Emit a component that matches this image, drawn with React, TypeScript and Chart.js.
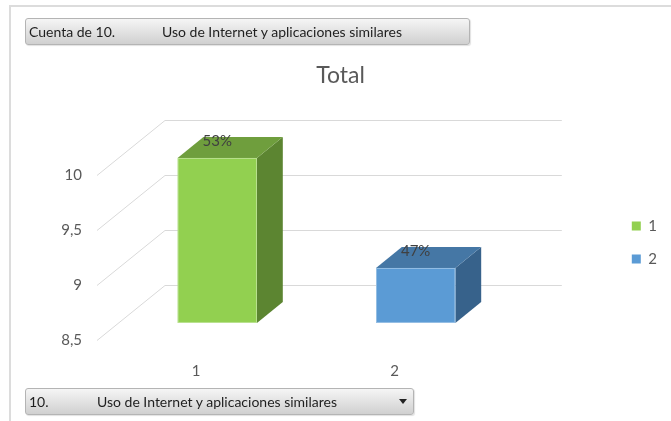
import React, { useEffect, useRef } from 'react';
import { Chart, registerables } from 'chart.js';

Chart.register(...registerables);

// ---- data ----
const categories = ['1', '2'];
const counts = [10, 9];
const yTickValues = [8.5, 9, 9.5, 10];
const chartTitle = 'Total';
const topButtonTexts = ['Cuenta de 10.', 'Uso de Internet y aplicaciones similares'];
const bottomButtonTexts = ['10.', 'Uso de Internet y aplicaciones similares'];

// ---- styles ----
const frontColors = ['#92D050', '#5B9BD5'];
const topColors = ['#6F9E3D', '#4577A5'];
const sideColors = ['#5C8531', '#37628B'];
const FONT = 'Lato, "Open Sans", sans-serif';
const TEXT_GRAY = '#595959';
const DEPTH_X = 68;
const DEPTH_Y = -55;
const BAR_FRONT = 0.31;
const BAR_BACK = 0.69;

const fmt = (v: number) => String(v).replace('.', ',');

const box3d = {
  id: 'box3d',
  beforeDatasetsDraw(chart: any) {
    const { ctx, chartArea: a } = chart;
    const y = chart.scales.y;
    ctx.save();
    // perspective grid (side wall diagonals + back wall lines)
    ctx.strokeStyle = '#d9d9d9';
    ctx.lineWidth = 1;
    y.ticks.forEach((t: any) => {
      const py = Math.round(y.getPixelForValue(t.value)) + 0.5;
      ctx.beginPath();
      ctx.moveTo(a.left, py);
      ctx.lineTo(a.left + DEPTH_X, py + DEPTH_Y);
      ctx.lineTo(a.right + DEPTH_X, py + DEPTH_Y);
      ctx.stroke();
    });
    // bars
    const meta = chart.getDatasetMeta(0);
    const values = chart.data.datasets[0].data as number[];
    const total = values.reduce((s, v) => s + v, 0);
    const fx = DEPTH_X * BAR_FRONT;
    const fy = DEPTH_Y * BAR_FRONT;
    const dx = DEPTH_X * (BAR_BACK - BAR_FRONT);
    const dy = DEPTH_Y * (BAR_BACK - BAR_FRONT);
    const basePix = y.getBasePixel();
    meta.data.forEach((bar: any, i: number) => {
      const p = bar.getProps(['x', 'y', 'base', 'width'], true);
      const x0 = p.x - p.width / 2 + fx;
      const x1 = p.x + p.width / 2 + fx;
      const y0 = p.y + fy;
      const y1 = Math.min(p.base, basePix) + fy;
      // side
      ctx.fillStyle = sideColors[i];
      ctx.beginPath();
      ctx.moveTo(x1, y0);
      ctx.lineTo(x1 + dx, y0 + dy);
      ctx.lineTo(x1 + dx, y1 + dy);
      ctx.lineTo(x1, y1);
      ctx.closePath();
      ctx.fill();
      // top
      ctx.fillStyle = topColors[i];
      ctx.beginPath();
      ctx.moveTo(x0, y0);
      ctx.lineTo(x1, y0);
      ctx.lineTo(x1 + dx, y0 + dy);
      ctx.lineTo(x0 + dx, y0 + dy);
      ctx.closePath();
      ctx.fill();
      // front
      ctx.fillStyle = frontColors[i];
      ctx.fillRect(x0, y0, x1 - x0, y1 - y0);
      ctx.strokeStyle = 'rgba(255,255,255,0.35)';
      ctx.strokeRect(x0 + 0.5, y0 + 0.5, x1 - x0 - 1, y1 - y0 - 1);
      // label
      ctx.fillStyle = '#404040';
      ctx.font = `15px ${FONT}`;
      ctx.textAlign = 'center';
      ctx.textBaseline = 'middle';
      const pct = Math.round((values[i] / total) * 100) + '%';
      ctx.fillText(pct, (x0 + x1) / 2, y0 + fy);
    });
    ctx.restore();
    return false;
  },
};

function ChartView() {
  const ref = useRef<HTMLCanvasElement | null>(null);
  useEffect(() => {
    if (!ref.current) return;
    const chart = new Chart(ref.current, {
      type: 'bar',
      data: {
        labels: categories,
        datasets: [
          {
            label: chartTitle,
            data: counts,
            base: yTickValues[0],
            backgroundColor: frontColors,
            barPercentage: 0.4,
            categoryPercentage: 1,
          },
        ],
      },
      options: {
        responsive: false,
        animation: false,
        events: [],
        layout: { padding: { left: 14, right: 4, top: 0, bottom: 0 } },
        scales: {
          x: {
            grid: { display: false },
            border: { display: false },
            ticks: { font: { family: FONT, size: 15 }, color: TEXT_GRAY, padding: 14 },
            afterFit: (s: any) => {
              s.height = 81;
            },
          },
          y: {
            type: 'linear',
            min: yTickValues[0],
            max: yTickValues[yTickValues.length - 1],
            grid: { display: false, drawTicks: false },
            border: { display: false },
            afterBuildTicks: (s: any) => {
              s.ticks = yTickValues.map((v) => ({ value: v }));
            },
            ticks: {
              font: { family: FONT, size: 15 },
              color: TEXT_GRAY,
              padding: 15,
              callback: (v: any) => fmt(Number(v)),
            },
            afterFit: (s: any) => {
              s.width = 83;
            },
          },
          depth: {
            type: 'linear',
            position: 'right',
            display: true,
            grid: { display: false, drawTicks: false },
            border: { display: false },
            ticks: { display: false },
            afterFit: (s: any) => {
              s.width = 120;
            },
          },
        },
        plugins: {
          title: {
            display: true,
            text: chartTitle,
            color: TEXT_GRAY,
            font: { family: FONT, size: 23, weight: 'normal' },
            padding: { top: 62, bottom: 85.4 },
          },
          legend: {
            position: 'right',
            align: 'start',
            fullSize: false,
            title: { display: true, text: '', padding: 0, font: { size: 12, lineHeight: '25.5px' } },
            labels: {
              boxWidth: 9,
              boxHeight: 9,
              padding: 18,
              color: TEXT_GRAY,
              font: { family: FONT, size: 15 },
              generateLabels: (c: any) =>
                (c.data.labels as string[]).map((l, i) => ({
                  text: l,
                  fillStyle: (c.data.datasets[0].backgroundColor as string[])[i],
                  strokeStyle: (c.data.datasets[0].backgroundColor as string[])[i],
                  lineWidth: 0,
                  hidden: false,
                  index: i,
                  datasetIndex: 0,
                  fontColor: TEXT_GRAY,
                })),
            },
          },
          tooltip: { enabled: false },
        },
      } as any,
      plugins: [box3d],
    });
    return () => chart.destroy();
  }, []);
  return (
    <canvas
      ref={ref}
      width={671}
      height={421}
      style={{ position: 'absolute', left: 0, top: 0, width: 671, height: 421 }}
    />
  );
}

const btnStyle: React.CSSProperties = {
  position: 'absolute',
  boxSizing: 'border-box',
  height: 27,
  border: '1px solid #b4b4b4',
  borderRadius: 3,
  background: 'linear-gradient(#f5f5f5, #d0d0d0)',
  boxShadow: '1px 1px 1px rgba(0,0,0,0.12)',
  fontFamily: FONT,
  fontSize: 14,
  lineHeight: '25px',
  color: '#1e1e1e',
  whiteSpace: 'nowrap',
  zIndex: 2,
};

const span = (left: number): React.CSSProperties => ({ position: 'absolute', left, top: 0 });

export default function App() {
  return (
    <div
      style={{
        position: 'fixed',
        left: 0,
        top: 0,
        width: 671,
        height: 421,
        background: '#fff',
        overflow: 'hidden',
      }}
    >
      <div
        style={{
          position: 'absolute',
          left: 9,
          top: 5,
          width: 700,
          height: 430,
          borderTop: '2px solid #dcdcdc',
          borderLeft: '2px solid #dcdcdc',
        }}
      />
      <ChartView />
      <div style={{ ...btnStyle, left: 25, top: 18, width: 445 }}>
        <span style={span(3)}>{topButtonTexts[0]}</span>
        <span style={span(136)}>{topButtonTexts[1]}</span>
      </div>
      <div style={{ ...btnStyle, left: 25, top: 388, width: 389 }}>
        <span style={span(3)}>{bottomButtonTexts[0]}</span>
        <span style={span(71)}>{bottomButtonTexts[1]}</span>
        <span
          style={{
            position: 'absolute',
            left: 373,
            top: 10,
            width: 0,
            height: 0,
            borderLeft: '4px solid transparent',
            borderRight: '4px solid transparent',
            borderTop: '5px solid #222',
          }}
        />
      </div>
    </div>
  );
}
